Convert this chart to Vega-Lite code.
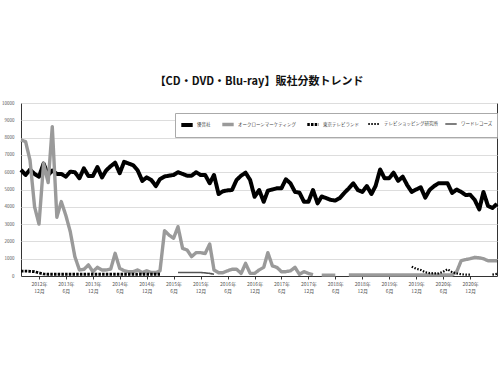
{
  "$schema": "https://vega.github.io/schema/vega-lite/v6.json",
  "width": 476,
  "height": 173,
  "autosize": {"type": "none"},
  "padding": {"left": 21, "top": 103, "right": 3, "bottom": 99},
  "background": "white",
  "title": {"text": "【CD・DVD・Blu-ray】販社分数トレンド", "fontSize": 11, "fontWeight": "bold", "font": "Noto Sans CJK JP", "color": "#111", "offset": 13, "anchor": "middle"},
  "config": {
    "font": "Noto Sans CJK JP",
    "view": {"stroke": "#333", "strokeWidth": 1},
    "legend": {"orient": "none", "legendX": 154, "legendY": 10, "direction": "horizontal", "columns": 5, "gridAlign": "none", "symbolType": "stroke", "symbolSize": 130, "labelFontSize": 4.5, "labelColor": "#444", "strokeColor": "#aaa", "fillColor": "white", "padding": 4, "columnPadding": 4, "labelOffset": 2}
  },
  "data": {
    "format": {"parse": {"month": "date:'%Y-%m'"}},
    "values": [
      {"month": "2012-08", "優音社": 6130, "オークローンマーケティング": 7860, "東京テレビランド": 280},
      {"month": "2012-09", "優音社": 5840, "オークローンマーケティング": 7770, "東京テレビランド": 280},
      {"month": "2012-10", "優音社": 6150, "オークローンマーケティング": 6700, "東京テレビランド": 270},
      {"month": "2012-11", "優音社": 5900, "オークローンマーケティング": 4000, "東京テレビランド": 250},
      {"month": "2012-12", "優音社": 5740, "オークローンマーケティング": 3000, "東京テレビランド": 180},
      {"month": "2013-01", "優音社": 6500, "オークローンマーケティング": 6500, "東京テレビランド": 120},
      {"month": "2013-02", "優音社": 5840, "オークローンマーケティング": 5400, "東京テレビランド": 100},
      {"month": "2013-03", "優音社": 6100, "オークローンマーケティング": 8630, "東京テレビランド": 100},
      {"month": "2013-04", "優音社": 5900, "オークローンマーケティング": 3400, "東京テレビランド": 100},
      {"month": "2013-05", "優音社": 5900, "オークローンマーケティング": 4300, "東京テレビランド": 100},
      {"month": "2013-06", "優音社": 5740, "オークローンマーケティング": 3500, "東京テレビランド": 100},
      {"month": "2013-07", "優音社": 6030, "オークローンマーケティング": 2560, "東京テレビランド": 100},
      {"month": "2013-08", "優音社": 6000, "オークローンマーケティング": 1120, "東京テレビランド": 100},
      {"month": "2013-09", "優音社": 5650, "オークローンマーケティング": 350, "東京テレビランド": 100},
      {"month": "2013-10", "優音社": 6220, "オークローンマーケティング": 380, "東京テレビランド": 100},
      {"month": "2013-11", "優音社": 5780, "オークローンマーケティング": 640, "東京テレビランド": 100},
      {"month": "2013-12", "優音社": 5780, "オークローンマーケティング": 250, "東京テレビランド": 100},
      {"month": "2014-01", "優音社": 6300, "オークローンマーケティング": 500, "東京テレビランド": 100},
      {"month": "2014-02", "優音社": 5700, "オークローンマーケティング": 350, "東京テレビランド": 100},
      {"month": "2014-03", "優音社": 6100, "オークローンマーケティング": 350, "東京テレビランド": 100},
      {"month": "2014-04", "優音社": 6350, "オークローンマーケティング": 400, "東京テレビランド": 100},
      {"month": "2014-05", "優音社": 6550, "オークローンマーケティング": 1310, "東京テレビランド": 100},
      {"month": "2014-06", "優音社": 5940, "オークローンマーケティング": 440, "東京テレビランド": 100},
      {"month": "2014-07", "優音社": 6600, "オークローンマーケティング": 300, "東京テレビランド": 100},
      {"month": "2014-08", "優音社": 6500, "オークローンマーケティング": 250, "東京テレビランド": 100},
      {"month": "2014-09", "優音社": 6400, "オークローンマーケティング": 250, "東京テレビランド": 100},
      {"month": "2014-10", "優音社": 6100, "オークローンマーケティング": 350, "東京テレビランド": 100},
      {"month": "2014-11", "優音社": 5500, "オークローンマーケティング": 200, "東京テレビランド": 100},
      {"month": "2014-12", "優音社": 5700, "オークローンマーケティング": 300, "東京テレビランド": 100},
      {"month": "2015-01", "優音社": 5550, "オークローンマーケティング": 200, "東京テレビランド": 100},
      {"month": "2015-02", "優音社": 5200, "オークローンマーケティング": 200, "東京テレビランド": 100},
      {"month": "2015-03", "優音社": 5600, "オークローンマーケティング": 300, "東京テレビランド": 100},
      {"month": "2015-04", "優音社": 5750, "オークローンマーケティング": 2620},
      {"month": "2015-05", "優音社": 5800, "オークローンマーケティング": 2370},
      {"month": "2015-06", "優音社": 5840, "オークローンマーケティング": 2180},
      {"month": "2015-07", "優音社": 6000, "オークローンマーケティング": 2850, "ワードレコーズ": 200},
      {"month": "2015-08", "優音社": 5900, "オークローンマーケティング": 1600, "ワードレコーズ": 200},
      {"month": "2015-09", "優音社": 5800, "オークローンマーケティング": 1500, "ワードレコーズ": 200},
      {"month": "2015-10", "優音社": 5800, "オークローンマーケティング": 1120, "ワードレコーズ": 200},
      {"month": "2015-11", "優音社": 6000, "オークローンマーケティング": 1350, "ワードレコーズ": 200},
      {"month": "2015-12", "優音社": 5840, "オークローンマーケティング": 1350, "ワードレコーズ": 200},
      {"month": "2016-01", "優音社": 5840, "オークローンマーケティング": 1300, "ワードレコーズ": 180},
      {"month": "2016-02", "優音社": 5360, "オークローンマーケティング": 1850, "ワードレコーズ": 150},
      {"month": "2016-03", "優音社": 5840, "オークローンマーケティング": 350, "ワードレコーズ": 100},
      {"month": "2016-04", "優音社": 4740, "オークローンマーケティング": 190},
      {"month": "2016-05", "優音社": 4900, "オークローンマーケティング": 190},
      {"month": "2016-06", "優音社": 4950, "オークローンマーケティング": 300},
      {"month": "2016-07", "優音社": 4970, "オークローンマーケティング": 390},
      {"month": "2016-08", "優音社": 5550, "オークローンマーケティング": 390},
      {"month": "2016-09", "優音社": 5800, "オークローンマーケティング": 150},
      {"month": "2016-10", "優音社": 5970, "オークローンマーケティング": 730},
      {"month": "2016-11", "優音社": 5550, "オークローンマーケティング": 150},
      {"month": "2016-12", "優音社": 4580, "オークローンマーケティング": 150},
      {"month": "2017-01", "優音社": 4970, "オークローンマーケティング": 350},
      {"month": "2017-02", "優音社": 4290, "オークローンマーケティング": 500},
      {"month": "2017-03", "優音社": 4930, "オークローンマーケティング": 1350},
      {"month": "2017-04", "優音社": 5000, "オークローンマーケティング": 580},
      {"month": "2017-05", "優音社": 5070, "オークローンマーケティング": 500},
      {"month": "2017-06", "優音社": 5070, "オークローンマーケティング": 250},
      {"month": "2017-07", "優音社": 5590, "オークローンマーケティング": 250},
      {"month": "2017-08", "優音社": 5360, "オークローンマーケティング": 300},
      {"month": "2017-09", "優音社": 4860, "オークローンマーケティング": 500},
      {"month": "2017-10", "優音社": 4820, "オークローンマーケティング": 100},
      {"month": "2017-11", "優音社": 4290, "オークローンマーケティング": 250},
      {"month": "2017-12", "優音社": 4290, "オークローンマーケティング": 150},
      {"month": "2018-01", "優音社": 4970, "オークローンマーケティング": 80},
      {"month": "2018-02", "優音社": 4200},
      {"month": "2018-03", "優音社": 4600, "オークローンマーケティング": 50},
      {"month": "2018-04", "優音社": 4500, "オークローンマーケティング": 50},
      {"month": "2018-05", "優音社": 4400, "オークローンマーケティング": 50},
      {"month": "2018-06", "優音社": 4360, "オークローンマーケティング": 50},
      {"month": "2018-07", "優音社": 4500},
      {"month": "2018-08", "優音社": 4800},
      {"month": "2018-09", "優音社": 5070, "オークローンマーケティング": 60},
      {"month": "2018-10", "優音社": 5360, "オークローンマーケティング": 60},
      {"month": "2018-11", "優音社": 4970, "オークローンマーケティング": 60},
      {"month": "2018-12", "優音社": 4860, "オークローンマーケティング": 60},
      {"month": "2019-01", "優音社": 5200, "オークローンマーケティング": 60},
      {"month": "2019-02", "優音社": 4740, "オークローンマーケティング": 60},
      {"month": "2019-03", "優音社": 5200, "オークローンマーケティング": 60},
      {"month": "2019-04", "優音社": 6160, "オークローンマーケティング": 60},
      {"month": "2019-05", "優音社": 5650, "オークローンマーケティング": 60},
      {"month": "2019-06", "優音社": 5650, "オークローンマーケティング": 60},
      {"month": "2019-07", "優音社": 5970, "オークローンマーケティング": 60},
      {"month": "2019-08", "優音社": 5500, "オークローンマーケティング": 60},
      {"month": "2019-09", "優音社": 5740, "オークローンマーケティング": 60},
      {"month": "2019-10", "優音社": 5260, "オークローンマーケティング": 60},
      {"month": "2019-11", "優音社": 4860, "オークローンマーケティング": 60, "テレビショッピング研究所": 540},
      {"month": "2019-12", "優音社": 5000, "オークローンマーケティング": 60, "テレビショッピング研究所": 420},
      {"month": "2020-01", "優音社": 5130, "オークローンマーケティング": 60, "テレビショッピング研究所": 350},
      {"month": "2020-02", "優音社": 4530, "オークローンマーケティング": 60, "テレビショッピング研究所": 220},
      {"month": "2020-03", "優音社": 4970, "オークローンマーケティング": 60, "テレビショッピング研究所": 170},
      {"month": "2020-04", "優音社": 5200, "オークローンマーケティング": 60, "テレビショッピング研究所": 150},
      {"month": "2020-05", "優音社": 5360, "オークローンマーケティング": 60, "テレビショッピング研究所": 150},
      {"month": "2020-06", "優音社": 5360, "オークローンマーケティング": 60, "テレビショッピング研究所": 250},
      {"month": "2020-07", "優音社": 5360, "オークローンマーケティング": 60, "テレビショッピング研究所": 390},
      {"month": "2020-08", "優音社": 4800, "オークローンマーケティング": 60, "テレビショッピング研究所": 220},
      {"month": "2020-09", "優音社": 5000, "オークローンマーケティング": 250, "テレビショッピング研究所": 150},
      {"month": "2020-10", "優音社": 4860, "オークローンマーケティング": 880, "テレビショッピング研究所": 100},
      {"month": "2020-11", "優音社": 4680, "オークローンマーケティング": 950, "テレビショッピング研究所": 80},
      {"month": "2020-12", "優音社": 4700, "オークローンマーケティング": 1000, "テレビショッピング研究所": 80},
      {"month": "2021-01", "優音社": 4400, "オークローンマーケティング": 1080},
      {"month": "2021-02", "優音社": 3850, "オークローンマーケティング": 1050},
      {"month": "2021-03", "優音社": 4860, "オークローンマーケティング": 1000},
      {"month": "2021-04", "優音社": 4050, "オークローンマーケティング": 880},
      {"month": "2021-05", "優音社": 3930, "オークローンマーケティング": 880, "テレビショッピング研究所": 80},
      {"month": "2021-06", "優音社": 4170, "オークローンマーケティング": 880, "テレビショッピング研究所": 120}
    ]
  },
  "transform": [
    {"fold": ["優音社", "オークローンマーケティング", "東京テレビランド", "テレビショッピング研究所", "ワードレコーズ"], "as": ["series", "value"]}
  ],
  "mark": {"type": "line", "invalid": "break-paths-show-domains", "strokeJoin": "round"},
  "encoding": {
    "x": {
      "field": "month", "type": "temporal",
      "scale": {"domain": [{"year": 2012, "month": 8, "date": 1}, {"year": 2021, "month": 6, "date": 1}]},
      "axis": {
        "title": null, "grid": false,
        "values": [
          {"year": 2012, "month": 12, "date": 1}, {"year": 2013, "month": 6, "date": 1},
          {"year": 2013, "month": 12, "date": 1}, {"year": 2014, "month": 6, "date": 1},
          {"year": 2014, "month": 12, "date": 1}, {"year": 2015, "month": 6, "date": 1},
          {"year": 2015, "month": 12, "date": 1}, {"year": 2016, "month": 6, "date": 1},
          {"year": 2016, "month": 12, "date": 1}, {"year": 2017, "month": 6, "date": 1},
          {"year": 2017, "month": 12, "date": 1}, {"year": 2018, "month": 6, "date": 1},
          {"year": 2018, "month": 12, "date": 1}, {"year": 2019, "month": 6, "date": 1},
          {"year": 2019, "month": 12, "date": 1}, {"year": 2020, "month": 6, "date": 1},
          {"year": 2020, "month": 12, "date": 1}
        ],
        "labelExpr": "[timeFormat(datum.value, '%Y年'), timeFormat(datum.value, '%-m月')]",
        "labelFontSize": 5, "labelColor": "#555", "labelLineHeight": 7.5,
        "tickSize": 3, "tickColor": "#333", "domainColor": "#333", "labelPadding": 2, "labelFlush": false, "labelOverlap": false
      }
    },
    "y": {
      "field": "value", "type": "quantitative",
      "scale": {"domain": [0, 10000], "nice": false},
      "axis": {"title": null, "values": [0, 1000, 2000, 3000, 4000, 5000, 6000, 7000, 8000, 9000, 10000], "format": "d", "labelFontSize": 4.5, "labelColor": "#555", "ticks": false, "domain": false, "gridColor": "#dddddd", "labelPadding": 7}
    },
    "color": {
      "field": "series", "type": "nominal",
      "scale": {"domain": ["優音社", "オークローンマーケティング", "東京テレビランド", "テレビショッピング研究所", "ワードレコーズ"], "range": ["#000000", "#9a9a9a", "#000000", "#000000", "#555555"]},
      "legend": {"title": null}
    },
    "strokeDash": {
      "field": "series", "type": "nominal",
      "scale": {"domain": ["優音社", "オークローンマーケティング", "東京テレビランド", "テレビショッピング研究所", "ワードレコーズ"], "range": [[1, 0], [1, 0], [2.5, 1.2], [1.5, 1.5], [1, 0]]},
      "legend": {"title": null}
    },
    "strokeWidth": {
      "field": "series", "type": "nominal",
      "scale": {"domain": ["優音社", "オークローンマーケティング", "東京テレビランド", "テレビショッピング研究所", "ワードレコーズ"], "range": [4, 1.6, 3.5, 1.5, 1.6]},
      "legend": {"title": null}
    }
  }
}
